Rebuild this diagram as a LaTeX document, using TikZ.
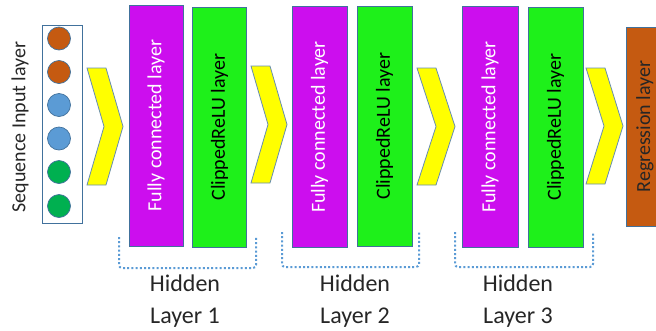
\documentclass[tikz,border=0pt]{standalone}
\usepackage{fontspec}
\setmainfont{Carlito}
\definecolor{fcpurple}{HTML}{CC0EEE}
\definecolor{relugreen}{HTML}{1EF01A}
\definecolor{outl}{HTML}{41719C}
\definecolor{corange}{HTML}{C55A11}
\definecolor{cblue}{HTML}{5B9BD5}
\definecolor{cgreen}{HTML}{00B050}
\definecolor{chevy}{HTML}{FFFF00}
\definecolor{dotblue}{HTML}{5B9BD5}
\begin{document}
\begin{tikzpicture}[x=1pt,y=-1pt,
  layerbox/.style={draw=outl,line width=0.9pt,rotate=90,inner sep=0pt,
    font=\fontsize{20}{24}\selectfont},
  fcbox/.style={layerbox,fill=fcpurple,text=white,minimum width=241pt,minimum height=54pt},
  relubox/.style={layerbox,fill=relugreen,text=black,minimum width=240pt,minimum height=54pt},
  regbox/.style={layerbox,fill=corange,text=black!85,minimum width=199pt,minimum height=38pt},
  unit/.style={circle,draw=outl,line width=0.7pt,minimum size=23pt,inner sep=0pt},
  chevron/.style={draw=outl!80,line width=0.8pt,fill=chevy,line join=miter},
  bracketline/.style={draw=dotblue,line width=2pt,dash pattern=on 2pt off 2.2pt,rounded corners=3pt},
  lbl/.style={font=\fontsize{24}{33}\selectfont,text=black!85,inner sep=0pt,anchor=base}]
\useasboundingbox (0,0) rectangle (656,330);
\clip (0,0) rectangle (656,330);

% input layer
\node[rotate=90,inner sep=0pt,font=\fontsize{20}{24}\selectfont,text=black!85] (seqlbl) at (20,127) {Sequence Input layer};
\node[draw=outl,line width=0.9pt,minimum width=40pt,minimum height=198pt,inner sep=0pt] (inbox) at (62,124) {};
\node[unit,fill=corange] (u1) at (59,38.5) {};
\node[unit,fill=corange] (u2) at (59,72) {};
\node[unit,fill=cblue] (u3) at (59,105) {};
\node[unit,fill=cblue] (u4) at (59,138.5) {};
\node[unit,fill=cgreen] (u5) at (59,172) {};
\node[unit,fill=cgreen] (u6) at (59,206) {};

% chevrons
\draw[chevron] (87,68) -- (106,68) -- (123,126.5) -- (106,185) -- (87,185) -- (104,126.5) -- cycle;
\draw[chevron] (251,66) -- (270,66) -- (287,124.5) -- (270,183) -- (251,183) -- (268,124.5) -- cycle;
\draw[chevron] (417,68) -- (436,68) -- (455,126.5) -- (436,185) -- (417,185) -- (436,126.5) -- cycle;
\draw[chevron] (586,68) -- (605,68) -- (623,126) -- (605,184) -- (586,184) -- (604,126) -- cycle;

% hidden layers
\node[fcbox] (fc1) at (156,125.5) {Fully connected layer};
\node[relubox] (cr1) at (219.5,127) {ClippedReLU layer};
\node[fcbox,minimum height=55pt] (fc2) at (319.5,127) {Fully connected layer};
\node[relubox,minimum height=55pt] (cr2) at (384.5,126) {ClippedReLU layer};
\node[fcbox,minimum height=56pt] (fc3) at (490,127) {Fully connected layer};
\node[relubox,minimum height=55pt] (cr3) at (555.5,127) {ClippedReLU layer};
\node[regbox] (reg) at (645,126.5) {Regression layer};

% brackets
\draw[bracketline] (119,237) -- (119,268) -- (256,268) -- (256,237);
\draw[bracketline] (282,232) -- (282,267) -- (419,267) -- (419,232);
\draw[bracketline] (455,232) -- (455,267) -- (593,267) -- (593,232);

% labels
\node[lbl] (h1) at (185,291) {Hidden};
\node[lbl] (l1) at (185,323) {Layer 1};
\node[lbl] (h2) at (355,291) {Hidden};
\node[lbl] (l2) at (355,323) {Layer 2};
\node[lbl] (h3) at (518,291) {Hidden};
\node[lbl] (l3) at (518,323) {Layer 3};
\end{tikzpicture}
\end{document}
